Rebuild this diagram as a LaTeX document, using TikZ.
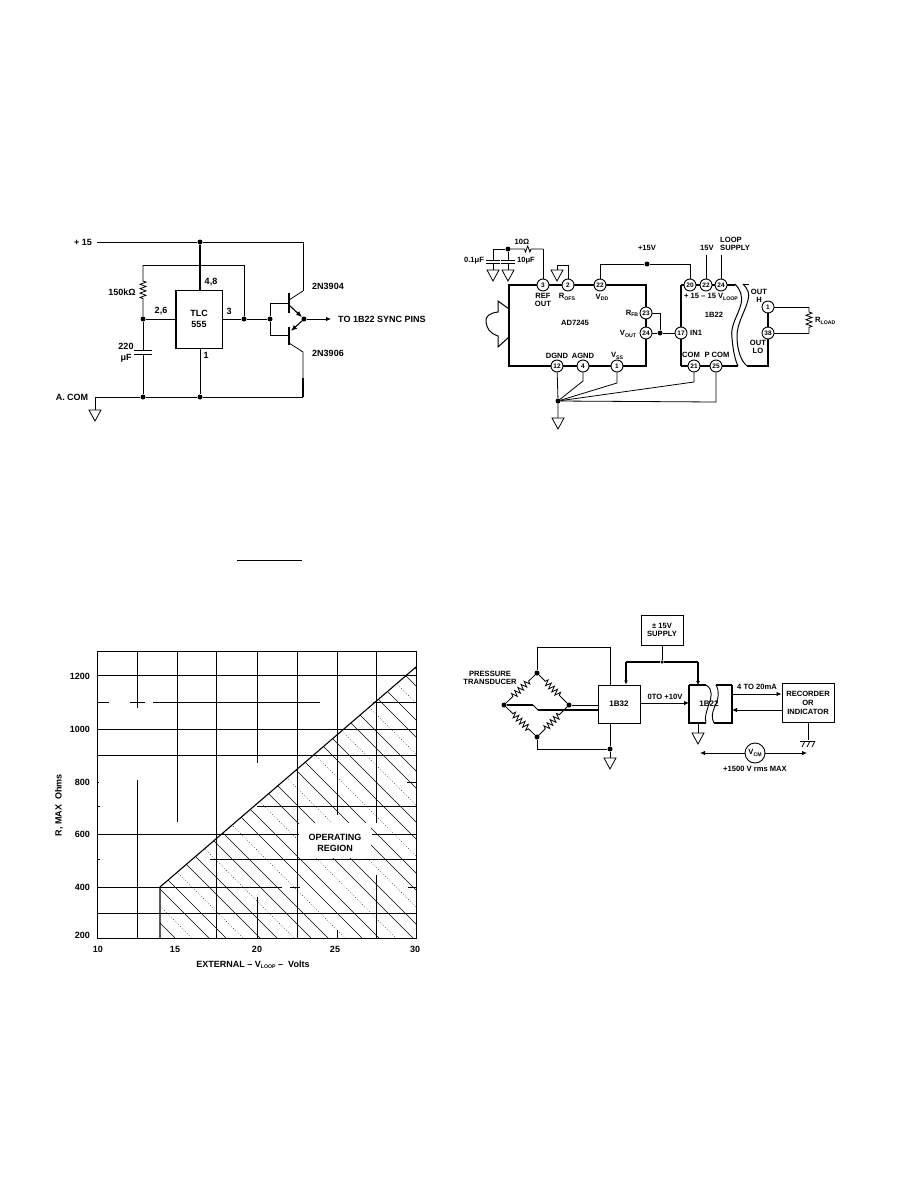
\documentclass[tikz,border=0pt]{standalone}
\usepackage{fontspec}
\setmainfont{Liberation Sans}
\usetikzlibrary{arrows.meta,decorations.pathmorphing,calc}
\newcommand{\lowtxt}[1]{\raisebox{-1.2pt}{\fontsize{5.2}{5}\selectfont #1}}
\tikzset{
 wire/.style={line width=0.8pt,black},
 thickwire/.style={line width=1.6pt,black},
 boxn/.style={draw,line width=1pt,inner sep=0pt,align=center,fill=white},
 dotn/.style={circle,fill=black,inner sep=0pt,minimum size=5pt},
 pinn/.style={circle,draw,line width=0.9pt,fill=white,inner sep=0pt,minimum size=12pt,font=\bfseries\fontsize{6.5}{7}\selectfont},
 lab/.style={inner sep=0pt,align=center,font=\bfseries\fontsize{7.6}{8}\selectfont},
 biglab/.style={inner sep=0pt,align=center,font=\bfseries\fontsize{9}{11}\selectfont},
 res/.style={decorate,decoration={zigzag,segment length=4.4pt,amplitude=3pt,pre length=#1,post length=#1}},
 res/.default=16pt,
 arr/.style={-{Latex[length=5pt,width=4.5pt]}},
 grid/.style={line width=0.9pt,black},
 hatchline/.style={line width=0.5pt,black},
 hatchdot/.style={line width=0.5pt,black,dotted},
}
\newcommand{\gndsym}[1]{\draw[wire] (#1) ++(-6,0) -- ++(12,0) -- ++(-6,11) -- cycle;}
\begin{document}
\begin{tikzpicture}[x=1pt,y=-1pt]
\useasboundingbox (0,0) rectangle (918,1188);
\fill[white] (0,0) rectangle (918,1188);

%% ---- TLC555 circuit ----
\node[boxn,minimum width=46pt,minimum height=58pt,font=\bfseries\fontsize{9}{11}\selectfont] (tlc) at (199,319) {TLC\\555};
\draw[thickwire] (tlc.north west) -- (tlc.south west);
\node[biglab,anchor=east] (vp) at (92,242) {+ 15};
\coordinate (vpe) at (97,242);
\node[dotn] (d1) at (200,242) {};
\coordinate (q1cc) at (303,242);
\coordinate (q1c) at (303,291);
\draw[wire] (vpe) -- (d1) -- (q1cc) -- (q1c);
\draw[thickwire] (d1) -- (d1|-tlc.north);
\coordinate (fb1) at (143,265);
\coordinate (fb2) at (244,265);
\node[dotn] (d2) at (143,319) {};
\node[dotn] (d3) at (244,319) {};
\node[dotn] (d4) at (270,319) {};
\node[dotn] (d5) at (304,319) {};
\draw[wire] (d3) -- (fb2) -- (fb1);
\draw[wire,res=16pt] (fb1) -- (d2);
\draw[wire] (d2) -- (tlc.west|-d2);
\draw[wire] (tlc.east|-d3) -- (d3) -- (d4);
\node[dotn] (d6) at (143,397) {};
\node[dotn] (d7) at (200,397) {};
\coordinate (ac) at (95,397);
\coordinate (rb) at (303,397);
\draw[wire] (ac) -- (d6) -- (d7) -- (rb);
\draw[wire] (d7) -- (d7|-tlc.south);
\coordinate (c1a) at (143,350);
\coordinate (c1b) at (143,354);
\draw[wire] (d2) -- (c1a) (c1b) -- (d6);
\draw[wire] (134,350) -- (152,350);
\draw[wire] (134,354) -- (152,354);
\coordinate (g1) at (95,410);
\draw[wire] (ac) -- (g1);
\gndsym{g1}
% transistors
\draw[line width=1.1pt] (289,293) -- (289,313);
\draw[line width=1.1pt] (289,327) -- (289,345);
\coordinate (b1) at (289,303);
\coordinate (b2) at (289,335);
\coordinate (c2) at (270,303);
\coordinate (c3) at (270,335);
\draw[wire] (b1) -- (c2) -- (d4) -- (c3) -- (b2);
\draw[wire] (289,300) -- (q1c);
\draw[line width=1.1pt,-{Latex[length=6pt,width=5pt]}] (289,305) -- (d5);
\draw[line width=1.1pt,{Latex[length=6pt,width=5pt]}-] (291,331) -- (d5);
\draw[wire] (289,343) -- (303,352) -- (rb);
\draw[line width=1.6pt] (303,378) -- (303,397);
\coordinate (toe) at (331,319);
\draw[wire,arr] (d5) -- (toe);
\node[biglab,anchor=west] (to) at (338,319) {TO 1B22 SYNC PINS};
\node[biglab] (t48) at (211,282) {4,8};
\node[biglab] (t26) at (161,311) {2,6};
\node[biglab] (t3) at (229,311) {3};
\node[biglab] (t1) at (206,355) {1};
\node[biglab] (t150) at (122,292) {150kΩ};
\node[biglab] (t220) at (126,353) {220\\μF};
\node[biglab] (tac) at (72,397) {A. COM};
\node[biglab] (tq1) at (328,286) {2N3904};
\node[biglab] (tq2) at (328,353) {2N3906};

%% ---- AD7245 circuit ----
\draw[thickwire] (509,285) rectangle (646,366);
\draw[thickwire] (681,285) -- (681,366);
\draw[thickwire] (681,366) -- (738,366);
\draw[thickwire] (681,285) -- (735,285);
\draw[line width=1pt] (735,284) .. controls (740,289) and (743,296) .. (741,304) .. controls (738,316) and (730,325) .. (732,338) .. controls (733,350) and (735,360) .. (738,366);
\draw[line width=1pt] (743,284) .. controls (748,289) and (750,294) .. (748,300) .. controls (745,312) and (737,323) .. (737,336) .. controls (737,350) and (741,361) .. (747,366);
\draw[thickwire] (747,366) -- (768,366) -- (768,307);
\draw[line width=1pt] (743,284.5) -- (749,284.5);
\node[pinn] (p3) at (543,285) {3};
\node[pinn] (p2) at (568,285) {2};
\node[pinn] (p22) at (600,285) {22};
\node[pinn] (p23) at (646,313) {23};
\node[pinn] (p24) at (646,333) {24};
\node[pinn] (p12) at (557,366) {12};
\node[pinn] (p4) at (583,366) {4};
\node[pinn] (p1) at (617,366) {1};
\node[pinn] (q20) at (690,285) {20};
\node[pinn] (q22) at (706,285) {22};
\node[pinn] (q24) at (721,285) {24};
\node[pinn] (q17) at (681,333) {17};
\node[pinn] (q21) at (694,366) {21};
\node[pinn] (q25) at (716,366) {25};
\node[pinn] (o1) at (768,307) {1};
\node[pinn] (o38) at (768,333) {38};
% ref network
\coordinate (r1) at (543,249);
\node[dotn] (d8) at (508,249) {};
\coordinate (c2t) at (493,249);
\draw[wire] (p3) -- (r1);
\draw[wire,res=12pt] (r1) -- (d8);
\draw[wire] (d8) -- (c2t);
\coordinate (g2) at (493,270);
\coordinate (g3) at (508,270);
\draw[wire] (c2t) -- (493,260) (493,263) -- (g2);
\draw[wire] (d8) -- (508,260) (508,263) -- (g3);
\draw[wire] (486,260) -- (500,260) (486,263) -- (500,263);
\draw[wire] (501,260) -- (515,260) (501,263) -- (515,263);
\gndsym{g2}
\gndsym{g3}
\coordinate (g4) at (557,270);
\coordinate (g4a) at (557,265);
\coordinate (g4b) at (568,265);
\gndsym{g4}
\draw[wire] (g4) -- (g4a) -- (g4b) -- (p2);
\node[dotn] (d9) at (647,264) {};
\coordinate (u1) at (600,264);
\coordinate (u2) at (690,264);
\draw[wire] (p22) -- (u1) -- (d9) -- (u2) -- (q20);
\coordinate (u3) at (706,255);
\coordinate (u4) at (721,255);
\draw[wire] (q22) -- (u3);
\draw[wire] (q24) -- (u4);
\coordinate (v1) at (660,313);
\node[dotn] (d10) at (660,333) {};
\draw[wire] (p23) -- (v1) -- (d10);
\draw[wire] (p24) -- (d10) -- (q17);
\draw[thickwire] (p23) -- (p24);
\draw[wire] (o1) -- (o38);
\coordinate (rl1) at (809,307);
\coordinate (rl2) at (809,333);
\draw[wire] (o1) -- (rl1);
\draw[wire,res=5pt] (rl1) -- (rl2);
\draw[wire] (rl2) -- (o38);
% ground star
\node[dotn] (d11) at (558,401) {};
\coordinate (g5) at (558,418);
\draw[wire] (p12) -- (d11) -- (g5);
\gndsym{g5}
\coordinate (s1) at (583,381);
\coordinate (s2) at (617,383);
\coordinate (s3) at (694,382);
\coordinate (s4) at (716,402);
\draw[wire] (p4) -- (s1) -- (d11);
\draw[wire] (p1) -- (s2) -- (d11);
\draw[wire] (q21) -- (s3) -- (d11);
\draw[wire] (q25) -- (s4) -- (d11);
% edge connector
\draw[line width=1pt] (509,309) -- (498,301) -- (498,312) .. controls (490,313) and (485,316) .. (486,322) .. controls (487,328) and (489,333) .. (498,336) -- (498,347) -- (509,337);
% labels
\node[lab] (a1) at (575,323) {AD7245};
\node[lab] (a2) at (543,300) {REF\\OUT};
\node[lab] (a3) at (567,297) {R\lowtxt{OFS}};
\node[lab] (a4) at (602,297) {V\lowtxt{DD}};
\node[lab] (a5) at (632,313) {R\lowtxt{FB}};
\node[lab] (a6) at (628,334) {V\lowtxt{OUT}};
\node[lab] (a7) at (557,356) {DGND};
\node[lab] (a8) at (583,356) {AGND};
\node[lab] (a9) at (617,356) {V\lowtxt{SS}};
\node[lab] (a10) at (522,242) {10Ω};
\node[lab] (a11) at (474,261) {0.1μF};
\node[lab] (a12) at (526,261) {10μF};
\node[lab] (a13) at (647,248) {+15V};
\node[lab] (a14) at (707,248) {15V};
\node[lab,align=left,anchor=west] (a15) at (720,244) {LOOP\\SUPPLY};
\node[lab] (b1t) at (714,315) {1B22};
\node[lab] (b2t) at (711,297) {+ 15 -- 15 V\lowtxt{LOOP}};
\node[lab,anchor=west] (b3t) at (690,333) {IN1};
\node[lab] (b4t) at (691,355) {COM};
\node[lab] (b5t) at (717,355) {P COM};
\node[lab] (b6t) at (759,296) {OUT\\H};
\node[lab] (b7t) at (758,347) {OUT\\LO};
\node[lab,anchor=west] (b8t) at (815,321) {R\lowtxt{LOAD}};

%% ---- fraction bar ----
\coordinate (fr1) at (237,560);
\coordinate (fr2) at (302,560);
\draw[wire] (fr1) -- (fr2);

%% ---- Pressure transducer ----
\node[boxn,minimum width=42pt,minimum height=38pt,font=\bfseries\fontsize{8}{9}\selectfont] (b32) at (619,704) {1B32};
\node[boxn,minimum width=42pt,minimum height=30pt,font=\bfseries\fontsize{7.6}{8.5}\selectfont] (sup) at (662,630) {± 15V\\SUPPLY};
\node[boxn,minimum width=52pt,minimum height=39pt,font=\bfseries\fontsize{7.6}{9}\selectfont] (rec) at (808,703) {RECORDER\\OR\\INDICATOR};
\node[dotn] (nt) at (537,673) {};
\node[dotn] (nl) at (504,705) {};
\node[dotn] (nr) at (569,705) {};
\node[dotn] (nb) at (537,737) {};
\draw[wire,res=9pt] (nt) -- (nl);
\draw[wire,res=9pt] (nt) -- (nr);
\draw[wire,res=9pt] (nb) -- (nl);
\draw[wire,res=9pt] (nb) -- (nr);
\coordinate (t1) at (537,647);
\coordinate (t2) at (610,647);
\draw[wire] (nt) -- (t1) -- (t2) -- (t2|-b32.north);
\draw[wire] (nr) -- (nr-|b32.west);
\coordinate (w1) at (533,705);
\coordinate (w2) at (538,710);
\coordinate (w3) at (598,710);
\draw[thickwire] (nl) -- (w1);
\draw[wire] (w1) -- (w2);
\draw[thickwire] (w2) -- (w3);
\node[dotn] (d12) at (610,749) {};
\coordinate (e1) at (537,749);
\coordinate (g6) at (610,758);
\draw[wire] (nb) -- (e1) -- (d12) -- (d12|-b32.south);
\draw[wire] (d12) -- (g6);
\gndsym{g6}
% 1B22 split box
\coordinate (k1) at (689,685);
\coordinate (k2) at (689,723);
\draw[line width=1.1pt] (k1) -- (k2) -- (706,723);
\draw[line width=1.1pt] (k1) -- (706,685);
\draw[line width=0.9pt] (706,685) .. controls (714,690) and (711,698) .. (709,704) .. controls (707,710) and (704,718) .. (706,723);
\draw[line width=1.1pt] (732,685) -- (716,685);
\draw[line width=1.1pt] (732,685) -- (732,723) -- (714,723);
\draw[line width=0.9pt] (716,685) .. controls (720,692) and (718,699) .. (716,704) .. controls (712,712) and (711,718) .. (714,723);
\node[font=\bfseries\fontsize{8}{9}\selectfont,inner sep=0pt] (b22) at (709,704) {1B22};
\coordinate (k3) at (689,703);
\coordinate (k4) at (732,694);
\coordinate (k5) at (732,710);
\draw[wire,arr] (b32.east|-k3) -- (k3);
\draw[wire,arr] (k4) -- (k4-|rec.west);
\draw[wire,arr] (k5-|rec.west) -- (k5);
\node[dotn,minimum size=3.5pt] (d13) at (662,662) {};
\coordinate (s5) at (626,662);
\coordinate (s6) at (698,662);
\draw[wire] (sup) -- (d13);
\draw[thickwire] (s5) -- (d13) -- (s6);
\draw[line width=1.6pt,-{Latex[length=4pt,width=4pt]}] (s5) -- (s5|-b32.north);
\draw[line width=1.6pt,-{Latex[length=4pt,width=4pt]}] (s6) -- (698,685);
\coordinate (k6) at (698,723);
\coordinate (g7) at (698,733);
\draw[wire] (k6) -- (g7);
\gndsym{g7}
\coordinate (h0) at (808,740);
\draw[wire] (rec.south) -- (h0);
\draw[wire] (800,741) -- (815,741);
\draw[wire] (805,741) -- (802,747) (810,741) -- (807,747) (815,741) -- (812,747);
\node[circle,draw,line width=0.9pt,minimum size=20pt,inner sep=0pt,font=\bfseries\fontsize{7.6}{8}\selectfont] (vcm) at (755,753) {V\lowtxt{CM}};
\coordinate (l1) at (700,753);
\coordinate (l2) at (807,753);
\draw[wire,arr] (vcm) -- (l1);
\draw[wire,arr] (vcm) -- (l2);
\node[lab] (l3) at (755,769) {+1500 V rms MAX};
\node[lab] (l4) at (490,678) {PRESSURE\\TRANSDUCER};
\node[lab] (l5) at (665,697) {0TO +10V};
\node[lab] (l6) at (757,687) {4 TO 20mA};

%% ---- Chart ----
\begin{scope}
\clip (160,887) -- (416,667) -- (416,938) -- (160,938) -- cycle;
\foreach \k [count=\i] in {-780,-763,...,-230}{
  \pgfmathtruncatemacro{\m}{mod(\i,3)}
  \ifnum\m=0
    \draw[hatchdot] (0,0-\k) -- (500,500-\k);
  \else
    \draw[hatchline] (0,0-\k) -- (500,500-\k);
  \fi
}
\end{scope}
\draw[grid] (97,938) -- (97,651) -- (416,651) -- (416,938) -- (97,938);
% horizontals
\foreach \y in {675,729,755,913}{\draw[grid] (97,\y) -- (416,\y);}
\draw[grid] (97,702) -- (109,702) (130,702) -- (145,702) (153,702) -- (320,702) (373,702) -- (416,702);
\draw[grid] (97,782) -- (99,782) (407,782) -- (416,782);
\draw[grid] (97,806) -- (100,806) (257,806) -- (416,806);
\draw[grid] (97,834) -- (300,834);
\draw[grid] (97,859) -- (100,859) (210,859) -- (416,859);
\draw[grid] (97,887) -- (282,887) (290,887) -- (300,887) (408,887) -- (416,887);
% verticals
\draw[grid] (137,651) -- (137,708) (137,780) -- (137,938);
\draw[grid] (177,651) -- (177,822);
\draw[grid] (216,651) -- (216,938);
\draw[grid] (257,651) -- (257,763) (257,897) -- (257,938);
\draw[grid] (297,651) -- (297,938);
\draw[grid] (337,651) -- (337,815) (337,930) -- (337,938);
\draw[grid] (376,651) -- (376,823) (376,875) -- (376,938);
\draw[line width=1.1pt] (160,938) -- (160,887) -- (416,667);
% white patch behind the region label
\fill[white] (298.5,823) rectangle (371,858);
\draw[grid] (372,834) -- (416,834);
\node[biglab] (op) at (335,843) {OPERATING\\REGION};
\node[biglab,anchor=east] (y1) at (90,676) {1200};
\node[biglab,anchor=east] (y2) at (90,729) {1000};
\node[biglab,anchor=east] (y3) at (90,782) {800};
\node[biglab,anchor=east] (y4) at (90,834) {600};
\node[biglab,anchor=east] (y5) at (90,887) {400};
\node[biglab,anchor=east] (y6) at (90,935) {200};
\node[biglab] (x1) at (98,949) {10};
\node[biglab] (x2) at (175,949) {15};
\node[biglab] (x3) at (257,949) {20};
\node[biglab] (x4) at (335,949) {25};
\node[biglab] (x5) at (415,949) {30};
\node[biglab,rotate=90] (yl) at (59,805) {R, MAX\ \ Ohms};
\node[biglab] (xl) at (253,965) {EXTERNAL -- V\lowtxt{LOOP} -- \ Volts};
\end{tikzpicture}
\end{document}
